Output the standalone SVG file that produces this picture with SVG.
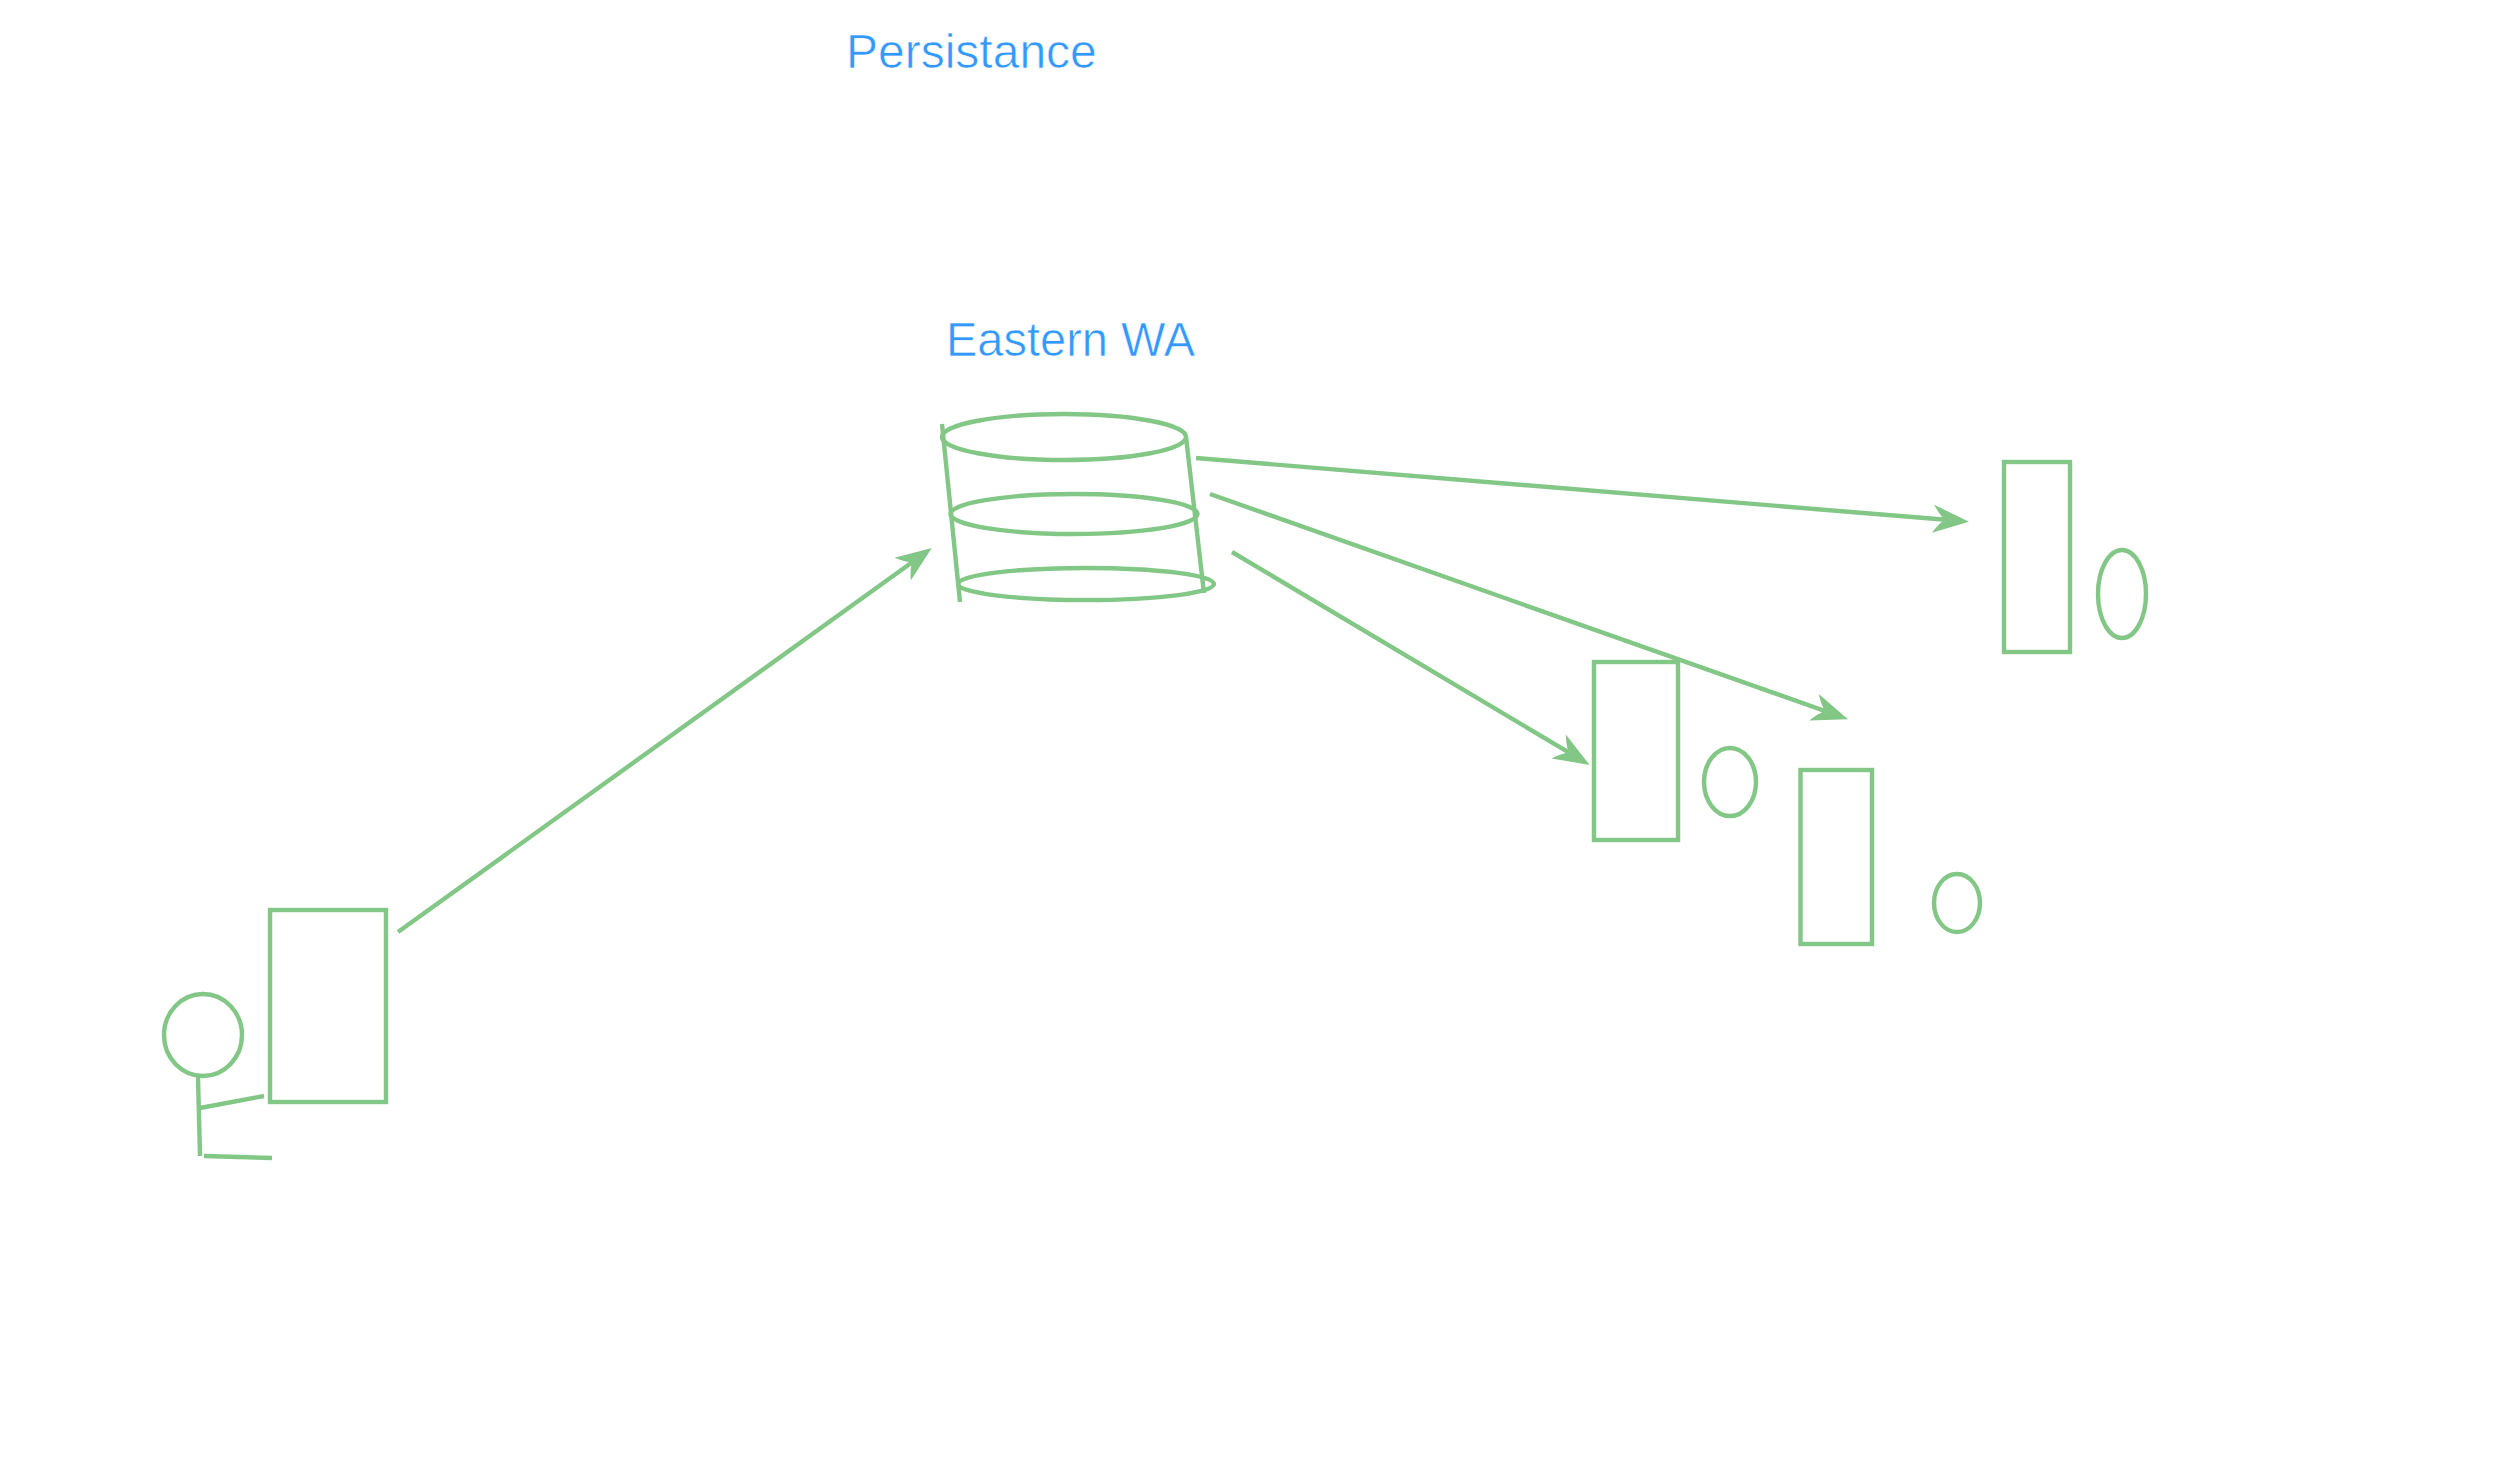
<svg xmlns="http://www.w3.org/2000/svg" width="2496" height="1472" viewBox="0 0 2496 1472">
<style>
.s{fill:none;stroke:#82c785;stroke-width:4.4}
.t{font-family:"Liberation Sans",Arial,sans-serif;font-size:48px;fill:#3399ff;stroke:#fff;stroke-width:.6}
.c{fill:none;stroke:#82c785;stroke-width:4.4;marker-end:url(#ah)}
</style>
<defs>
<marker id="ah" markerUnits="userSpaceOnUse" markerWidth="42" markerHeight="34" viewBox="0 -17 42 34" refX="20" refY="0" orient="auto">
<path d="M37 0L1 -14Q6 -6 10 -2.500L10 2.500Q6 6 1 14Z" fill="#82c785"/>
</marker>
</defs>
<rect width="2496" height="1472" fill="#fff"/>
<text class="t" x="846" y="68">Persistance</text>
<text class="t" x="946" y="356" textLength="249" lengthAdjust="spacingAndGlyphs">Eastern WA</text>
<g id="user">
<ellipse class="s" cx="203" cy="1035" rx="39" ry="41"/>
<line class="s" x1="198" y1="1077" x2="200" y2="1156"/>
<line class="s" x1="200" y1="1108" x2="264" y2="1096"/>
<line class="s" x1="204" y1="1156" x2="272" y2="1158"/>
</g>
<g id="client"><rect class="s" x="270" y="910" width="116" height="192"/></g>
<g id="database">
<ellipse class="s" cx="1064" cy="437" rx="122" ry="23"/>
<ellipse class="s" cx="1074" cy="514" rx="123.500" ry="20"/>
<ellipse class="s" cx="1086" cy="584" rx="128" ry="16"/>
<line class="s" x1="942" y1="424" x2="960" y2="602"/>
<line class="s" x1="1186" y1="437" x2="1204" y2="593"/>
</g>
<g id="server1"><rect class="s" x="1594" y="662" width="84" height="178"/><ellipse class="s" cx="1730" cy="782" rx="26" ry="34"/></g>
<g id="server2"><rect class="s" x="1800.500" y="770" width="71.500" height="174"/><ellipse class="s" cx="1957" cy="903" rx="23" ry="29"/></g>
<g id="server3"><rect class="s" x="2004" y="462" width="66" height="190"/><ellipse class="s" cx="2122" cy="594" rx="24" ry="44"/></g>
<g id="connectors">
<line class="c" x1="398" y1="932" x2="918" y2="558"/>
<line class="c" x1="1196" y1="458" x2="1952" y2="520.300"/>
<line class="c" x1="1210" y1="494" x2="1832" y2="713.500"/>
<line class="c" x1="1232" y1="552" x2="1575" y2="756.200"/>
</g>
</svg>
